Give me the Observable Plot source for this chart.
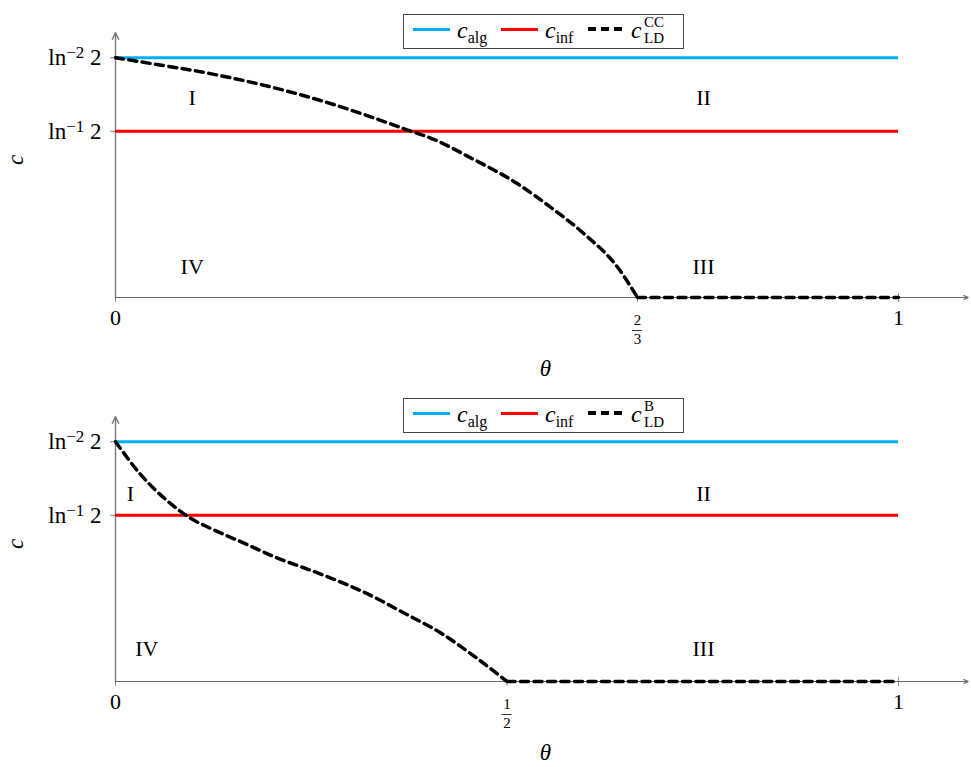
<!DOCTYPE html>
<html><head><meta charset="utf-8">
<script src="https://cdn.jsdelivr.net/npm/d3@7"></script>
<script src="https://cdn.jsdelivr.net/npm/@observablehq/plot@0.6"></script>
<style>
html,body{margin:0;background:#fff;font-family:"Liberation Serif",serif;overflow:hidden;}
.panel{position:relative;width:971px;height:384px;overflow:hidden;}
.panel.second{height:383px;}
.panel svg{display:block;}
.legend{position:absolute;border:1px solid #444;background:#fff;box-sizing:border-box;}
.smp{position:absolute;height:0;}
.lbl{position:absolute;font-size:24px;white-space:nowrap;line-height:1;}
.lbl i{font-style:italic;}
.sub{font-size:16px;position:relative;top:5px;}
.sup2{position:absolute;font-size:15px;line-height:15px;left:13px;}
</style></head><body>
<div id="chart"></div>
<script>
// ---- data ----
const C_ALG = 2.0814;   // ln^-2 2
const C_INF = 1.4427;   // ln^-1 2
const yTickValues = [C_ALG, C_INF];
const yTickExponents = ["−2", "−1"];
const Y_MAX = 2.3;
const X_ARROW_END = 1.089;

// panel 1 : c_LD^CC
const thetaCC = [0, 0.036, 0.121, 0.207, 0.291, 0.368, 0.409, 0.450, 0.513, 0.556, 0.598, 0.641, 0.6667];
const cCC     = [2.0814, 2.041, 1.943, 1.813, 1.648, 1.466, 1.366, 1.225, 0.989, 0.782, 0.555, 0.265, 0];
const kinkCC = 2/3;
// panel 2 : c_LD^B
const thetaB = [0, 0.032, 0.070, 0.096, 0.121, 0.164, 0.207, 0.245, 0.275, 0.322, 0.368, 0.415, 0.457, 0.5];
const cB     = [2.0814, 1.797, 1.546, 1.416, 1.330, 1.201, 1.071, 0.976, 0.898, 0.760, 0.596, 0.423, 0.225, 0];
const kinkB = 1/2;

const regionNames = ["I", "II", "III", "IV"];
const regionThetaCC = [0.098, 0.751, 0.751, 0.098];
const regionCCC     = [1.735, 1.735, 0.269, 0.269];
const regionThetaB  = [0.019, 0.751, 0.751, 0.040];
const regionCB      = [1.624, 1.624, 0.285, 0.285];

const FONT = "Liberation Serif";
const BLUE = "#00aeef", RED = "#ff0000";

function panel(theta, cv, kink, fracNum, fracDen, rTheta, rC, sup, second) {
  const curve = theta.map((t, i) => ({t, c: cv[i]}));
  const flat = [{t: kink, c: 0}, {t: 1, c: 0}];
  const regions = regionNames.map((n, i) => ({n, t: rTheta[i], c: rC[i]}));
  const dash = {stroke: "black", strokeWidth: 3.5, strokeDasharray: "8,5.5"};
  const svg = Plot.plot({
    width: 971, height: second ? 383 : 384,
    marginLeft: 115, marginRight: 73, marginTop: 32, marginBottom: second ? 86 : 87,
    x: {domain: [0, 1]}, y: {domain: [0, Y_MAX]},
    style: {fontFamily: FONT, background: "transparent", color: "black"},
    marks: [
      Plot.axisY({ticks: yTickValues, tickFormat: () => "ln 2",
        fontSize: 23, tickSize: 5, tickPadding: 9, stroke: "#888", fill: "black", label: null}),
      Plot.axisX({ticks: [0, kink, 1], tickFormat: d => d === kink ? "" : String(d),
        fontSize: 22, tickSize: 5, tickPadding: 7, stroke: "#888", fill: "black", label: null}),
      Plot.ruleX([1], {y1: 0, y2: 0.035, stroke: "#888"}),
      Plot.text([kink], {x: d => d, y: 0, text: () => String(fracNum), dy: 23, fontSize: 15}),
      Plot.text([kink], {x: d => d, y: 0, text: () => String(fracDen), dy: 42, fontSize: 15}),
      Plot.ruleY([0], {x1: kink - 0.0065, x2: kink + 0.0065, dy: 33, stroke: "black", strokeWidth: 0.8}),
      Plot.text(["θ"], {x: 0.549, y: 0, text: d => d, dy: 71, fontSize: 23, fontStyle: "italic"}),
      Plot.text(["c"], {frameAnchor: "left", text: d => d, dx: -100, rotate: -90, fontSize: 23, fontStyle: "italic"}),
      Plot.text(regions, {x: "t", y: "c", text: "n", fontSize: 22}),
      Plot.arrow([0], {x1: 0, y1: 0, x2: 0, y2: Y_MAX, stroke: "#777", strokeWidth: 1.4, headLength: 8, headAngle: 50}),
      Plot.arrow([0], {x1: 0, y1: 0, x2: X_ARROW_END, y2: 0, stroke: "#666", strokeWidth: 1.2, headLength: 6, headAngle: 50}),
      Plot.ruleY([C_ALG], {x1: 0, x2: 1, stroke: BLUE, strokeWidth: 3}),
      Plot.ruleY([C_INF], {x1: 0, x2: 1, stroke: RED, strokeWidth: 3}),
      Plot.line(curve, {x: "t", y: "c", curve: "monotone-x", ...dash}),
      Plot.line(flat, {x: "t", y: "c", ...dash})
    ]
  });
  // typeset the y tick labels as ln^{-k} 2 with real superscripts
  const yTicks = svg.querySelectorAll('g[aria-label="y-axis tick label"] text');
  yTicks.forEach((t, i) => {
    t.textContent = "";
    const ns = "http://www.w3.org/2000/svg";
    const a = document.createElementNS(ns, "tspan"); a.textContent = "ln";
    const b = document.createElementNS(ns, "tspan"); b.textContent = yTickExponents[i];
    b.setAttribute("dy", "-0.4em"); b.setAttribute("font-size", "17");
    const c = document.createElementNS(ns, "tspan"); c.textContent = "\u00a02";
    c.setAttribute("dy", "0.3em");
    t.append(a, b, c);
  });
  const div = document.createElement("div");
  div.className = "panel" + (second ? " second" : "");
  div.appendChild(svg);
  const lg = document.createElement("div");
  lg.className = "legend";
  Object.assign(lg.style, {left: "403px", top: "14px", width: "281px", height: "35px"});
  lg.innerHTML = `
    <div class="smp" style="left:9px;top:13px;width:37px;border-top:3px solid ${BLUE}"></div>
    <div class="lbl" style="left:53px;top:3px"><i>c</i><span class="sub">alg</span></div>
    <div class="smp" style="left:97px;top:13px;width:37px;border-top:3px solid ${RED}"></div>
    <div class="lbl" style="left:141px;top:3px"><i>c</i><span class="sub">inf</span></div>
    <div class="smp" style="left:184px;top:12px;width:34px;border-top:4px dashed black"></div>
    <div class="lbl" style="left:227px;top:3px"><i>c</i><span class="sup2" style="top:-3px">${sup}</span><span class="sup2" style="top:13px">LD</span></div>`;
  div.appendChild(lg);
  return div;
}

const root = document.getElementById("chart");
root.appendChild(panel(thetaCC, cCC, kinkCC, 2, 3, regionThetaCC, regionCCC, "CC", false));
root.appendChild(panel(thetaB, cB, kinkB, 1, 2, regionThetaB, regionCB, "B", true));
</script>
</body></html>
